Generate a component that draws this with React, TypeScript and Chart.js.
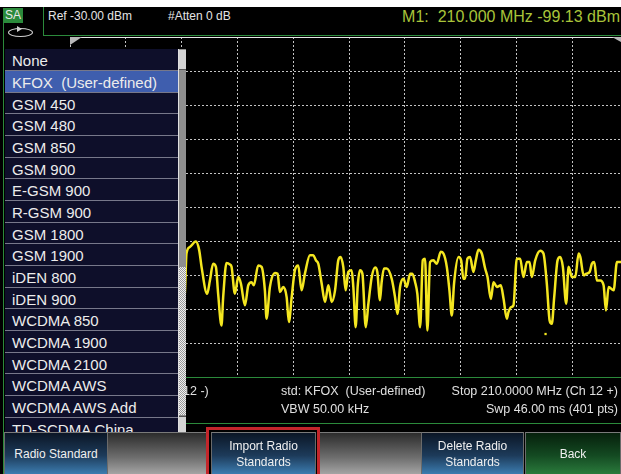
import React, { useEffect, useRef } from "react";
import { Chart, registerables } from "chart.js";

Chart.register(...registerables);

// ---- data ----
const refLevelDbm = -30;
const dbPerDiv = 10;
const sweepPoints = 400;
const traceIndex = [
  80, 82.3, 83.5, 85.9, 90.2, 92.6, 94.3, 98.3, 100.3, 102.6, 104.6, 106.2, 108.6, 109.8, 112.2, 114.6, 115.8, 118.2, 120.6,
  122.5, 125.4, 127.8, 130.1, 131.8, 134.9, 137.3, 139.7, 140.9, 143.3, 146.9, 148.8, 150.5, 152.9, 155.3,
  156.9, 158.9, 161.2, 163.6, 166.0, 168.4, 172.0, 174.4, 176.3, 178.0, 180.4, 182.8, 185.2, 187.6, 190.0, 192.3,
  194.0, 195.9, 197.6, 199.5, 201.9, 203.1, 204.8, 206.2, 207.9, 209.6, 212.0, 213.9, 216.3, 218.7, 220.3,
  222.2, 223.4, 225.1, 227.0, 230.6, 233.0, 234.7, 236.6, 239.0, 241.4, 243.8, 245.4, 247.4, 249.0, 251.0,
  252.9, 254.5, 256.2, 258.1, 260.5, 262.9, 265.8, 267.7, 270.1, 272.0, 273.7, 275.3, 278.5, 280.4, 282.0,
  283.2, 284.9, 286.8, 289.2, 290.9, 292.8, 295.2, 297.6, 299.3, 301.7, 303.6, 306.0, 308.8, 310.8, 313.1,
  314.3, 316.2, 317.9, 320.3, 322.7, 325.1, 327.5, 329.4, 331.1, 333.5, 337.1, 339.4, 341.8, 343.8, 345.4,
  347.1, 349.5, 351.4, 353.3, 355.7, 357.4, 359.8, 362.2, 364.6, 365.8, 368.2, 370.1, 372.5, 374.1, 375.8,
  377.7, 380.1, 382.5, 384.2, 386.1, 389.7, 392.1, 395.2, 400
];
const traceDbm = [
  -108, -105.3, -93.5, -91.6, -90.0, -92.5, -97.4, -105.3, -101.4, -96.5, -97.4, -105.3, -114.6, -106.3, -96.3, -96.7, -97.4, -105.3, -100.4,
  -102.3, -108.7, -102.8, -101.9, -102.8, -97.0, -97.4, -104.3, -112.6, -103.3, -99.2, -99.4, -104.8, -103.3, -106.3,
  -113.6, -106.3, -98.4, -97.0, -104.3, -99.4, -94.0, -94.0, -95.5, -96.5, -102.3, -107.7, -102.8, -107.7, -104.3, -95.5,
  -94.5, -97.4, -104.3, -98.9, -98.4, -103.3, -115.1, -103.3, -98.4, -99.4, -115.1, -108.2, -100.4, -97.6, -98.9,
  -107.2, -101.9, -97.9, -97.9, -100.9, -106.3, -111.2, -103.3, -100.9, -103.3, -99.4, -99.4, -101.9, -105.3, -115.1,
  -95.5, -95.0, -116.1, -96.0, -95.5, -96.5, -93.0, -93.5, -97.4, -104.3, -111.7, -102.3, -94.5, -95.5, -100.9,
  -100.9, -95.0, -94.5, -98.9, -95.5, -92.4, -93.5, -97.9, -100.4, -106.8, -101.9, -103.3, -102.8, -106.8, -112.6,
  -110.7, -109.2, -108.7, -95.0, -95.0, -100.4, -96.0, -96.0, -100.4, -95.5, -92.7, -93.5, -102.3, -113.1, -114.1,
  -106.3, -95.5, -94.5, -97.4, -108.2, -97.4, -100.4, -100.4, -93.5, -94.5, -99.9, -99.4, -98.9, -96.5, -96.0,
  -101.4, -101.4, -102.8, -110.2, -103.3, -104.3, -96.0, -96.0, -98.0
];
const dotIndex = [340.9];
const dotDbm = [-117.1];

const standards = [
  "None", "KFOX  (User-defined)", "GSM 450", "GSM 480", "GSM 850", "GSM 900", "E-GSM 900", "R-GSM 900",
  "GSM 1800", "GSM 1900", "iDEN 800", "iDEN 900", "WCDMA 850", "WCDMA 1900", "WCDMA 2100", "WCDMA AWS",
  "WCDMA AWS Add", "TD-SCDMA China"
];
const selectedStandard = 1;

const headerRef = "Ref -30.00 dBm";
const headerAtten = "#Atten 0 dB";
const markerText = "M1:  210.000 MHz -99.13 dBm";
const infoLine1 = ["12 -)", "std: KFOX  (User-defined)", "Stop 210.0000 MHz (Ch 12 +)"];
const infoLine2 = ["VBW 50.00 kHz", "Swp 46.00 ms (401 pts)"];

const FONT = "'Liberation Sans', Arial, sans-serif";
const GREEN = "#2b8a3b";

const edgePlugin = {
  id: "edges",
  afterDraw(chart: any) {
    const { ctx, chartArea } = chart;
    ctx.save();
    ctx.strokeStyle = "#e8e8e8";
    ctx.lineWidth = 1;
    ctx.beginPath();
    ctx.moveTo(chartArea.left, chartArea.top + 0.5);
    ctx.lineTo(chartArea.right, chartArea.top + 0.5);
    ctx.stroke();
    ctx.fillStyle = "#b8b8b8";
    ctx.beginPath();
    ctx.moveTo(chartArea.left, chartArea.top);
    ctx.lineTo(chartArea.left + 12, chartArea.top);
    ctx.lineTo(chartArea.left, chartArea.top + 8);
    ctx.closePath();
    ctx.fill();
    ctx.beginPath();
    ctx.moveTo(chartArea.left + 542, chartArea.top);
    ctx.lineTo(chartArea.left + 551, chartArea.top);
    ctx.lineTo(chartArea.left + 551, chartArea.top + 5);
    ctx.closePath();
    ctx.fill();
    ctx.restore();
  },
};

function ChartView() {
  const ref = useRef<HTMLCanvasElement | null>(null);
  useEffect(() => {
    if (!ref.current) return;
    const chart = new Chart(ref.current, {
      type: "line",
      data: {
        datasets: [
          {
            data: traceIndex.map((x, i) => ({ x, y: traceDbm[i] })),
            borderColor: "#f4e620",
            borderWidth: 2.5,
            pointRadius: 0,
            pointHoverRadius: 0,
            cubicInterpolationMode: "monotone",
          },
          {
            data: dotIndex.map((x, i) => ({ x, y: dotDbm[i] })),
            showLine: false,
            pointStyle: "rect",
            pointRadius: 1.6,
            pointHoverRadius: 0,
            backgroundColor: "#f4e620",
            borderColor: "#f4e620",
            borderWidth: 0,
          },
        ],
      },
      options: {
        animation: false,
        responsive: false,
        devicePixelRatio: 1,
        layout: { padding: 0, autoPadding: false },
        plugins: { legend: { display: false }, tooltip: { enabled: false } },
        scales: {
          x: {
            type: "linear",
            min: 0,
            max: sweepPoints,
            ticks: { display: false, stepSize: sweepPoints / 10 },
            grid: { color: "#c4c4c4", drawTicks: false, lineWidth: 1 },
            border: { display: false, dash: [2, 2] },
          },
          y: {
            type: "linear",
            min: refLevelDbm - dbPerDiv * 10,
            max: refLevelDbm,
            ticks: { display: false, stepSize: dbPerDiv },
            grid: { color: "#c4c4c4", drawTicks: false, lineWidth: 1 },
            border: { display: false, dash: [2, 2] },
          },
        },
      },
      plugins: [edgePlugin],
    } as any);
    return () => chart.destroy();
  }, []);
  return (
    <canvas
      ref={ref}
      width={558}
      height={341}
      style={{ position: "absolute", left: 70, top: 37, width: 558, height: 341 }}
    />
  );
}

const abs = (s: React.CSSProperties): React.CSSProperties => ({ position: "absolute", ...s });

function SoftKey({ left, width, lines, kind }: { left: number; width: number; lines: string[]; kind: string }) {
  const bg =
    kind === "blue"
      ? "linear-gradient(to bottom, #0b1626 0%, #1d3b5a 55%, #3c7cb0 100%)"
      : kind === "green"
      ? "linear-gradient(to bottom, #06200c 0%, #144a22 55%, #2a7a3c 100%)"
      : "linear-gradient(to bottom, #2c2c2c 0%, #6e6e6e 60%, #a4a4a4 100%)";
  return (
    <div
      style={abs({
        left,
        top: 432,
        width,
        height: 42,
        background: bg,
        borderTop: "1px solid #7a7a7a",
        borderLeft: kind === "gray" ? "none" : "1px solid #6a6a6a",
        borderRight: kind === "gray" ? "none" : "1px solid #6a6a6a",
        boxSizing: "border-box",
        color: "#f0f0f0",
        fontSize: 12,
        lineHeight: "16px",
        display: "flex",
        flexDirection: "column",
        justifyContent: "center",
        alignItems: "center",
        textAlign: "center",
      })}
    >
      {lines.map((l, i) => (
        <div key={i}>{l}</div>
      ))}
    </div>
  );
}

export default function App() {
  const itemH = 21.667;
  return (
    <div
      style={{
        position: "fixed",
        left: 0,
        top: 0,
        width: 621,
        height: 474,
        overflow: "hidden",
        background: "#000",
        fontFamily: FONT,
      }}
    >
      <div style={abs({ left: 0, top: 0, width: 621, height: 7, background: "#fff" })} />
      {/* header */}
      <div
        style={abs({
          left: 43,
          top: 7,
          width: 580,
          height: 29,
          borderLeft: `1px solid ${GREEN}`,
          borderBottom: `1px solid ${GREEN}`,
          boxSizing: "border-box",
        })}
      />
      <div style={abs({ left: 3, top: 8, width: 20, height: 15, background: GREEN, color: "#e8e8e8", fontSize: 12, lineHeight: "15px", textAlign: "center" })}>SA</div>
      <div style={abs({ left: 8, top: 28, width: 23, height: 7, border: "1px solid #cfcfcf", borderRadius: "50%" })} />
      <div style={abs({ left: 17, top: 26, width: 0, height: 0, borderTop: "3px solid transparent", borderBottom: "3px solid transparent", borderLeft: "5px solid #cfcfcf" })} />
      <div style={abs({ left: 48, top: 9, color: "#e4e4e4", fontSize: 12, lineHeight: "15px", whiteSpace: "pre" })}>{headerRef}</div>
      <div style={abs({ left: 168, top: 9, color: "#e4e4e4", fontSize: 12, lineHeight: "15px", whiteSpace: "pre" })}>{headerAtten}</div>
      <div style={abs({ right: 1, top: 7, color: "#a9c43a", fontSize: 16, lineHeight: "19px", whiteSpace: "pre" })}>{markerText}</div>

      <ChartView />

      {/* separators */}
      <div style={abs({ left: 185, top: 377, width: 436, height: 1, background: GREEN })} />
      <div style={abs({ left: 184, top: 423, width: 437, height: 1, background: GREEN })} />
      <div style={abs({ left: 3, top: 23, width: 1, height: 451, background: GREEN })} />

      {/* info lines */}
      <div style={abs({ left: 183, top: 384, color: "#e0e0e0", fontSize: 12.5, lineHeight: "15px", whiteSpace: "pre" })}>{infoLine1[0]}</div>
      <div style={abs({ left: 281, top: 384, color: "#e0e0e0", fontSize: 12.5, lineHeight: "15px", whiteSpace: "pre" })}>{infoLine1[1]}</div>
      <div style={abs({ right: 3, top: 384, color: "#e0e0e0", fontSize: 12.5, lineHeight: "15px", whiteSpace: "pre" })}>{infoLine1[2]}</div>
      <div style={abs({ left: 281, top: 402, color: "#e0e0e0", fontSize: 12.5, lineHeight: "15px", whiteSpace: "pre" })}>{infoLine2[0]}</div>
      <div style={abs({ right: 3, top: 402, color: "#e0e0e0", fontSize: 12.5, lineHeight: "15px", whiteSpace: "pre" })}>{infoLine2[1]}</div>

      {/* dropdown list */}
      <div style={abs({ left: 5, top: 49.33, width: 173, height: 382.67, background: "#0e0f2a", overflow: "hidden" })}>
        {standards.map((s, i) => (
          <div
            key={s}
            style={abs({
              left: 0,
              top: i * itemH,
              width: 173,
              height: itemH,
              background: i === selectedStandard ? "#3f5eae" : "transparent",
              borderBottom: "1px solid #77788a",
              boxSizing: "border-box",
              color: "#ececec",
              fontSize: 15,
              lineHeight: `${itemH + 2}px`,
              paddingLeft: 7,
              whiteSpace: "pre",
            })}
          >
            {s}
          </div>
        ))}
      </div>
      {/* scrollbar */}
      <div style={abs({ left: 178, top: 49, width: 8, height: 383, background: "#8e8e8e", borderLeft: "1px solid #e0e0e0", boxSizing: "border-box" })} />
      <div style={abs({ left: 179, top: 50, width: 7, height: 20, background: "#d4d4d4", borderBottom: "1px solid #555", boxSizing: "border-box" })} />
      <div
        style={abs({
          left: 179,
          top: 267,
          width: 7,
          height: 148,
          background: "repeating-conic-gradient(#f0f0f0 0% 25%, #9a9a9a 0% 50%) 0 0 / 2px 2px",
        })}
      />
      <div style={abs({ left: 179, top: 416, width: 7, height: 16, background: "#d4d4d4", borderTop: "1px solid #555", boxSizing: "border-box" })} />

      {/* soft keys */}
      <SoftKey left={4} width={104} lines={["Radio Standard"]} kind="blue" />
      <SoftKey left={108} width={99} lines={[]} kind="gray" />
      <SoftKey left={211} width={105} lines={["Import Radio", "Standards"]} kind="blue" />
      <SoftKey left={320} width={101} lines={[]} kind="gray" />
      <SoftKey left={421} width={103} lines={["Delete Radio", "Standards"]} kind="blue" />
      <SoftKey left={525} width={96} lines={["Back"]} kind="green" />
      <div style={abs({ left: 206, top: 427, width: 114, height: 50, border: "3px solid #c3262b", boxSizing: "border-box" })} />
    </div>
  );
}
